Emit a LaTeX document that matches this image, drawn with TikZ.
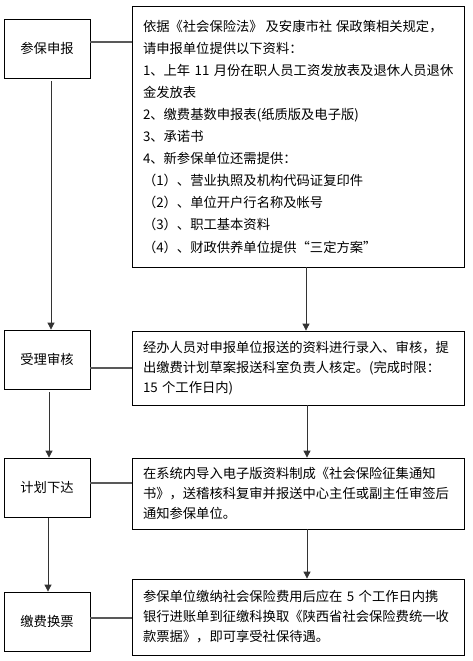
\documentclass[tikz,border=0pt]{standalone}
\usepackage{fontspec}
\newfontfamily\cjk{Noto Sans CJK SC}
\usetikzlibrary{arrows.meta}

\tikzset{
  stagebox/.style={draw=black, line width=0.8pt, minimum width=86pt, minimum height=59pt,
    inner sep=0pt, font=\cjk\fontsize{13.3}{20}\selectfont},
  infobox/.style={draw=black, line width=0.8pt, text width=310pt, inner xsep=11pt, inner ysep=0pt,
    align=left, font=\cjk\fontsize{13.3}{20}\selectfont},
  link/.style={draw=black!65, line width=1.6pt},
  flow/.style={draw=black!80, line width=0.8pt, -{Triangle[width=7pt,length=7pt]}}
}

\begin{document}
\begin{tikzpicture}[x=1pt, y=-1pt]
  \useasboundingbox[fill=white] (0,0) rectangle (473,661);
  % stages on the left
  \node[stagebox] (apply)  at (47,48.5)  {参保申报};
  \node[stagebox] (check)  at (47,359.5) {受理审核};
  \node[stagebox] (plan)   at (47,487.5) {计划下达};
  \node[stagebox] (pay)    at (47,621.5) {缴费换票};
  % details on the right
  \node[infobox, minimum height=261pt, font=\cjk\fontsize{13.3}{22.1}\selectfont] (applytxt) at (298,136.5)
    {依据《社会保险法》\hspace{3pt}及安康市社\hspace{4pt}保政策相关规定，\\
     请申报单位提供以下资料：\\
     1、上年~11~月份在职人员工资发放表及退休人员退休\\
     金发放表\\
     2、缴费基数申报表(纸质版及电子版)\\
     3、承诺书\\
     4、新参保单位还需提供：\\
     （1）、营业执照及机构代码证复印件\\
     （2）、单位开户行名称及帐号\\
     （3）、职工基本资料\\
     （4）、财政供养单位提供“三定方案”};
  \node[infobox, minimum height=74pt] (checktxt) at (298,368)
    {经办人员对申报单位报送的资料进行录入、审核，提\\
     出缴费计划草案报送科室负责人核定。(完成时限：\\
     15~个工作日内)};
  \node[infobox, minimum height=71pt] (plantxt) at (298,493.5)
    {在系统内导入电子版资料制成《社会保险征集通知\\
     书》，送稽核科复审并报送中心主任或副主任审签后\\
     通知参保单位。};
  \node[infobox, minimum height=76pt] (paytxt) at (298,617)
    {参保单位缴纳社会保险费用后应在~5~个工作日内携\\
     银行进账单到征缴科换取《陕西省社会保险费统一收\\
     款票据》，即可享受社保待遇。};
  % stage to detail
  \draw[link] ([yshift=6.5pt]apply.east) -- ([yshift=6.5pt]apply.east -| applytxt.west);
  \draw[link] ([yshift=-8.5pt]check.east) -- ([yshift=-8.5pt]check.east -| checktxt.west);
  \draw[link] ([yshift=4.5pt]plan.east) -- ([yshift=4.5pt]plan.east -| plantxt.west);
  \draw[link] ([yshift=3.5pt]pay.east) -- ([yshift=3.5pt]pay.east -| paytxt.west);
  % flow down the left
  \draw[flow, shorten <=3pt] ([xshift=4pt]apply.south) -- ([xshift=4pt]check.north);
  \draw[flow, shorten <=3pt] ([xshift=2pt]check.south) -- ([xshift=2pt]plan.north);
  \draw[flow, shorten <=1pt] ([xshift=1pt]plan.south) -- ([xshift=1pt]pay.north);
  % flow down the right
  \draw[flow] ([xshift=8pt]applytxt.south) -- ([xshift=8pt]checktxt.north);
  \draw[flow] ([xshift=9pt]checktxt.south) -- ([xshift=9pt]plantxt.north);
  \draw[flow] ([xshift=9pt]plantxt.south) -- ([xshift=9pt]paytxt.north);
\end{tikzpicture}
\end{document}
